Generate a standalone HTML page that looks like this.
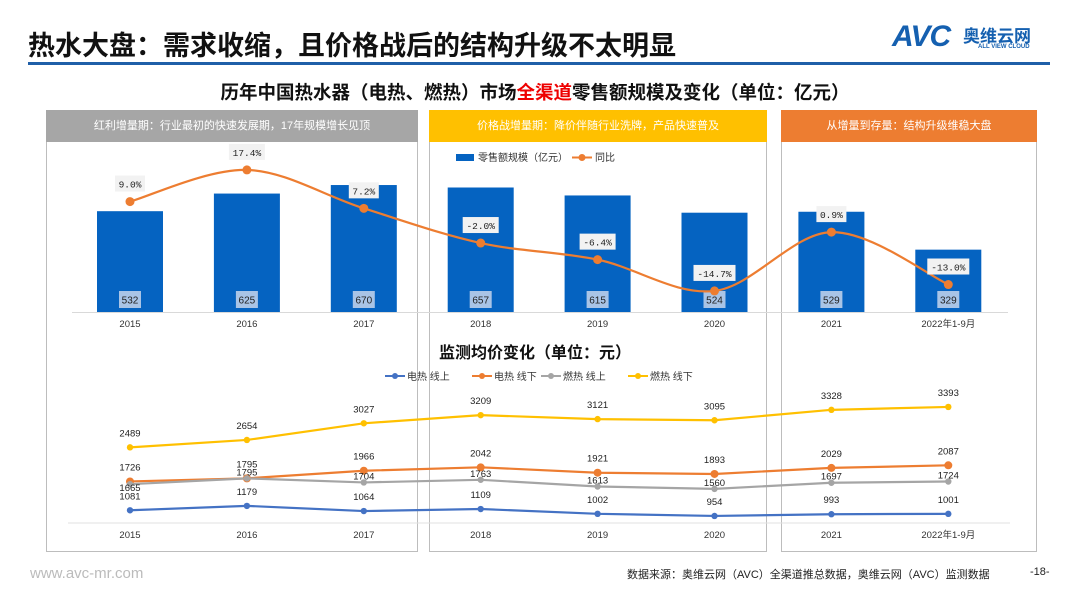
<!DOCTYPE html>
<html><head><meta charset="utf-8">
<style>
body{margin:0;width:1080px;height:602px;background:#fff;overflow:hidden;font-family:"Liberation Sans","Noto Sans CJK SC",sans-serif;position:relative}
.abs{position:absolute}
.ph{position:absolute;top:110px;height:32px;color:#fff;font-size:11px;line-height:32px;text-align:center}
.pb{position:absolute;top:142px;height:410px;border:1px solid #bdbdbd;border-top:none;box-sizing:border-box}
</style></head><body>
<div class="abs" style="left:28px;top:24px;font-size:27px;font-weight:bold;color:#111;white-space:nowrap">热水大盘：需求收缩，且价格战后的结构升级不太明显</div>
<div class="abs" style="left:892px;top:20px;color:#1560b0;font-weight:bold;font-style:italic;font-size:30px;letter-spacing:-1px">AVC</div>
<div class="abs" style="left:963px;top:22px;color:#1560b0;font-weight:bold;font-size:17px">奥维云网</div>
<div class="abs" style="left:978px;top:44px;color:#1560b0;font-size:6px;font-weight:bold;white-space:nowrap">ALL VIEW CLOUD</div>
<div class="abs" style="left:28px;top:62px;width:1022px;height:3px;background:#1f5fa8"></div>
<div class="abs" style="left:0;width:1070px;top:79px;text-align:center;font-size:18.5px;font-weight:bold;color:#111">历年中国热水器（电热、燃热）市场<span style="color:#e00">全渠道</span>零售额规模及变化（单位：亿元）</div>

<div class="ph" style="left:46px;width:372px;background:#a6a6a6">红利增量期：行业最初的快速发展期，17年规模增长见顶</div>
<div class="ph" style="left:429px;width:338px;background:#ffc000">价格战增量期：降价伴随行业洗牌，产品快速普及</div>
<div class="ph" style="left:781px;width:256px;background:#ed7d31">从增量到存量：结构升级维稳大盘</div>
<div class="pb" style="left:46px;width:372px"></div>
<div class="pb" style="left:429px;width:338px"></div>
<div class="pb" style="left:781px;width:256px"></div>

<svg class="abs" style="left:0;top:0" width="1080" height="602" id="chart"></svg>

<div class="abs" style="left:30px;top:565px;font-size:15px;color:#bbb">www.avc-mr.com</div>
<div class="abs" style="left:627px;top:566px;font-size:11px;color:#222">数据来源：奥维云网（AVC）全渠道推总数据，奥维云网（AVC）监测数据</div>
<div class="abs" style="left:1030px;top:566px;font-size:11px;color:#222">-18-</div>

<script>
const categories=["2015","2016","2017","2018","2019","2020","2021","2022年1-9月"];
const salesValues=[532,625,670,657,615,524,529,329];
const yoyValues=[9.0,17.4,7.2,-2.0,-6.4,-14.7,0.9,-13.0];
const yoyLabels=["9.0%","17.4%","7.2%","-2.0%","-6.4%","-14.7%","0.9%","-13.0%"];
const seriesNames=["电热 线上","电热 线下","燃热 线上","燃热 线下"];
const elecOnline=[1081,1179,1064,1109,1002,954,993,1001];
const elecOffline=[1726,1795,1966,2042,1921,1893,2029,2087];
const gasOnline=[1665,1795,1704,1763,1613,1560,1697,1724];
const gasOffline=[2489,2654,3027,3209,3121,3095,3328,3393];
const priceSeries=[elecOnline,elecOffline,gasOnline,gasOffline];
const priceColors=["#4472c4","#ed7d31","#a5a5a5","#ffc000"];

const svg=document.getElementById('chart');
const NS='http://www.w3.org/2000/svg';
function mk(t,a,txt){const e=document.createElementNS(NS,t);for(const k in a)e.setAttribute(k,a[k]);if(txt!==undefined)e.textContent=txt;svg.appendChild(e);return e;}
const xPos=i=>130+i*116.9;
const yBar=v=>312-v*0.1895;
const yYoy=v=>235.5-v*3.77;
const yPrice=v=>558.6-v*0.0447;
const F='"Liberation Sans","Noto Sans CJK SC",sans-serif';

let e=mk('line',{x1:72,x2:1008,y1:312.5,y2:312.5,stroke:'#d9d9d9'});

e=mk('rect',{x:456,y:154,width:18,height:7,fill:'#0563c1'});

e=mk('text',{x:478,y:161,'font-size':10,fill:'#333','font-family':F},'零售额规模（亿元）');

e=mk('line',{x1:572,x2:592,y1:157.5,y2:157.5,stroke:'#ed7d31','stroke-width':2});

e=mk('circle',{cx:582,cy:157.5,r:3.5,fill:'#ed7d31'});

e=mk('text',{x:595,y:161,'font-size':10,fill:'#333','font-family':F},'同比');


categories.forEach((c,i)=>{
  const x=xPos(i),top=yBar(salesValues[i]);
  let b=mk('rect',{x:x-33,y:top,width:66,height:312-top,fill:'#0563c1'});
  
  let r=mk('rect',{x:x-11,y:291,width:22,height:17,fill:'#a9c4e6'});
  
  let t=mk('text',{x:x,y:303.5,'font-size':10,'text-anchor':'middle',fill:'#222','font-family':F},salesValues[i]);
  
  t=mk('text',{x:x,y:327,'font-size':9.5,'text-anchor':'middle',fill:'#333','font-family':F},c);
  
  t=mk('text',{x:x,y:538,'font-size':9.5,'text-anchor':'middle',fill:'#333','font-family':F},c);
  
});
const pts=yoyValues.map((v,i)=>[xPos(i),yYoy(v)]);
let d='M'+pts[0][0]+','+pts[0][1];
for(let i=0;i<pts.length-1;i++){
  const p0=pts[Math.max(0,i-1)],p1=pts[i],p2=pts[i+1],p3=pts[Math.min(pts.length-1,i+2)];
  const c1=[p1[0]+(p2[0]-p0[0])/6,p1[1]+(p2[1]-p0[1])/6],c2=[p2[0]-(p3[0]-p1[0])/6,p2[1]-(p3[1]-p1[1])/6];
  d+=' C'+c1+' '+c2+' '+p2;
}
e=mk('path',{d:d,fill:'none',stroke:'#ed7d31','stroke-width':2.2});

pts.forEach((p,i)=>{
  let c=mk('circle',{cx:p[0],cy:p[1],r:4.5,fill:'#ed7d31'});
  
  const w=yoyLabels[i].length*6+6;
  let r=mk('rect',{x:p[0]-w/2,y:p[1]-26,width:w,height:16,fill:'#f2f2f2'});
  
  let t=mk('text',{x:p[0],y:p[1]-14,'font-size':9.5,'text-anchor':'middle',fill:'#222','font-family':'"Liberation Mono",monospace'},yoyLabels[i]);
  
});

e=mk('text',{x:535,y:358,'font-size':16,'font-weight':'bold','text-anchor':'middle',fill:'#111','font-family':F},'监测均价变化（单位：元）');

e=mk('line',{x1:68,x2:1010,y1:523,y2:523,stroke:'#e0e0e0'});

const lx=[385,472,541,628];
seriesNames.forEach((n,k)=>{
  let l=mk('line',{x1:lx[k],x2:lx[k]+20,y1:376,y2:376,stroke:priceColors[k],'stroke-width':2});
  
  l=mk('circle',{cx:lx[k]+10,cy:376,r:3,fill:priceColors[k]});
  
  l=mk('text',{x:lx[k]+22,y:380,'font-size':10,fill:'#333','font-family':F},n);
  
});
priceSeries.forEach((s,k)=>{
  const p=s.map((v,i)=>xPos(i)+','+yPrice(v)).join(' ');
  let pl=mk('polyline',{points:p,fill:'none',stroke:priceColors[k],'stroke-width':2.2});
  
  s.forEach((v,i)=>{
    let c=mk('circle',{cx:xPos(i),cy:yPrice(v),r:k==1?4:3.2,fill:priceColors[k]});
    
    const off=k==2?(i==0?7:-3):-11;
    let t=mk('text',{x:xPos(i),y:yPrice(v)+off,'font-size':9.5,'text-anchor':'middle',fill:'#222','font-family':F},v);
    
  });
});
</script>
</body></html>
